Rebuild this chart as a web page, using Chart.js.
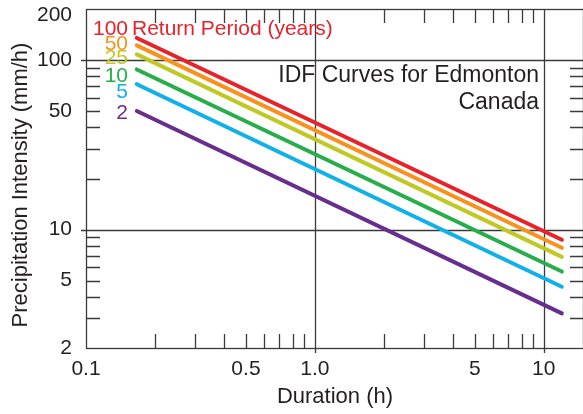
<!DOCTYPE html>
<html>
<head>
<meta charset="utf-8">
<title>IDF Curves for Edmonton</title>
<script src="https://cdn.jsdelivr.net/npm/chart.js@4/dist/chart.umd.min.js"></script>
<style>
  html, body { margin: 0; padding: 0; background: #fff; overflow: hidden; }
  #wrap { width: 584px; height: 414px; }
</style>
</head>
<body>
<div id="wrap"><canvas id="myChart" width="584" height="414"></canvas></div>
<script>
// durations (h) where the curves start and end
var durations = [0.1667, 12];

// intensity (mm/h) per return period
var periods = ['100', '50', '25', '10', '5', '2'];
var rp100 = [135, 8.7];
var rp50 = [122, 7.8];
var rp25 = [108, 6.9];
var rp10 = [88, 5.65];
var rp5 = [72, 4.6];
var rp2 = [50, 3.2];

var colors = ['#e8222b', '#f7921e', '#bfc923', '#27ad4a', '#10b1e8', '#672d8f'];

// axis ticks
var xTicks = [0.1, 0.5, 1, 5, 10];
var xTickLabels = ['0.1', '0.5', '1.0', '5', '10'];
var yTicks = [2, 5, 10, 50, 100, 200];
var yTickLabels = ['2', '5', '10', '50', '100', '200'];
var xMinor = [0.2, 0.3, 0.4, 0.5, 0.6, 0.7, 0.8, 0.9, 2, 3, 4, 5, 6, 7, 8, 9];
var yMinor = [3, 4, 5, 6, 7, 8, 9, 20, 30, 40, 50, 60, 70, 80, 90];
var majorGrid = { x: [1, 10], y: [10, 100] };

var ink = '#231f20';
var font = '"Liberation Sans", Arial, Helvetica, sans-serif';

function series(vals) {
    return durations.map(function (d, i) { return { x: d, y: vals[i] }; });
}

var allSeries = [rp100, rp50, rp25, rp10, rp5, rp2];
var datasets = allSeries.map(function (vals, i) {
    return {
        label: periods[i],
        data: series(vals),
        borderColor: colors[i],
        backgroundColor: colors[i],
        borderWidth: 4,
        borderCapStyle: 'round',
        pointRadius: 0,
        fill: false
    };
});

// frame, grid lines, minor ticks and annotations
var framePlugin = {
    id: 'frame',
    beforeDatasetsDraw: function (chart) {
        var ctx = chart.ctx, a = chart.chartArea;
        var xs = chart.scales.x, ys = chart.scales.y;
        ctx.save();
        ctx.strokeStyle = '#3a3a3a';
        ctx.lineWidth = 1.3;
        majorGrid.x.forEach(function (v) {
            var px = Math.round(xs.getPixelForValue(v)) + 0.5;
            ctx.beginPath();
            ctx.moveTo(px, a.top);
            ctx.lineTo(px, a.bottom + 5);
            ctx.stroke();
        });
        majorGrid.y.forEach(function (v) {
            var py = Math.round(ys.getPixelForValue(v)) + 0.5;
            ctx.beginPath();
            ctx.moveTo(a.left - 5, py);
            ctx.lineTo(a.right, py);
            ctx.stroke();
        });
        ctx.restore();
    },
    afterDatasetsDraw: function (chart) {
        var ctx = chart.ctx, a = chart.chartArea;
        var xs = chart.scales.x, ys = chart.scales.y;
        var len = 14;
        ctx.save();
        ctx.strokeStyle = '#3a3a3a';
        ctx.lineWidth = 1.3;
        ctx.strokeRect(a.left + 0.5, a.top + 0.5, a.right - a.left - 1, a.bottom - a.top);
        ctx.beginPath();
        xMinor.forEach(function (v) {
            var px = Math.round(xs.getPixelForValue(v)) + 0.5;
            ctx.moveTo(px, a.bottom); ctx.lineTo(px, a.bottom - len);
            ctx.moveTo(px, a.top); ctx.lineTo(px, a.top + len);
        });
        yMinor.forEach(function (v) {
            var py = Math.round(ys.getPixelForValue(v)) + 0.5;
            ctx.moveTo(a.left, py); ctx.lineTo(a.left + len, py);
            ctx.moveTo(a.right, py); ctx.lineTo(a.right - len, py);
        });
        ctx.stroke();

        // return period labels
        ctx.textBaseline = 'middle';
        ctx.font = '21px ' + font;
        var labelY = [29, 44, 58, 76, 92, 113];
        ctx.textAlign = 'right';
        periods.forEach(function (p, i) {
            ctx.fillStyle = colors[i];
            ctx.fillText(p, 128, labelY[i]);
        });
        ctx.textAlign = 'left';
        ctx.fillStyle = colors[0];
        ctx.fillText('Return Period (years)', 132, labelY[0]);

        // title
        ctx.fillStyle = ink;
        ctx.textAlign = 'right';
        ctx.font = '23px ' + font;
        ctx.fillText('IDF Curves for Edmonton', 539, 76);
        ctx.fillText('Canada', 539, 103);

        // y axis title
        ctx.translate(21, 185);
        ctx.rotate(-Math.PI / 2);
        ctx.textAlign = 'center';
        ctx.font = '22px ' + font;
        ctx.fillText('Precipitation Intensity (mm/h)', 0, 0);
        ctx.restore();
    }
};

var ctx = document.getElementById('myChart').getContext('2d');
var chart = new Chart(ctx, {
    type: 'line',
    data: { datasets: datasets },
    options: {
        responsive: false,
        animation: false,
        devicePixelRatio: 1,
        layout: { padding: { top: 9, right: 0, bottom: 0, left: 0 } },
        plugins: { legend: { display: false }, tooltip: { enabled: false } },
        scales: {
            x: {
                type: 'logarithmic',
                min: 0.1,
                max: 15,
                grid: { display: false, drawTicks: false },
                border: { display: false },
                afterBuildTicks: function (scale) {
                    scale.ticks = xTicks.map(function (v) { return { value: v }; });
                },
                afterFit: function (scale) {
                    scale.height = 66;
                    scale.paddingLeft = 0;
                    scale.paddingRight = 0;
                },
                ticks: {
                    autoSkip: false,
                    maxRotation: 0,
                    padding: 9,
                    color: ink,
                    font: { family: font, size: 21 },
                    callback: function (value) {
                        var i = xTicks.indexOf(value);
                        return i >= 0 ? xTickLabels[i] : '';
                    }
                },
                title: {
                    display: true,
                    text: 'Duration (h)',
                    color: ink,
                    font: { family: font, size: 22 },
                    padding: { top: 0, bottom: 4 }
                }
            },
            y: {
                type: 'logarithmic',
                min: 2,
                max: 200,
                grid: { display: false, drawTicks: false },
                border: { display: false },
                afterBuildTicks: function (scale) {
                    scale.ticks = yTicks.map(function (v) { return { value: v }; });
                },
                afterFit: function (scale) {
                    scale.width = 86;
                    scale.paddingTop = 0;
                    scale.paddingBottom = 0;
                },
                ticks: {
                    autoSkip: false,
                    padding: 14,
                    color: ink,
                    // top label sits a little below the frame, as in the original
                    font: function (c) {
                        if (c.tick && c.tick.value === 200) {
                            return { family: font, size: 21, lineHeight: 0.6 };
                        }
                        return { family: font, size: 21 };
                    },
                    callback: function (value) {
                        var i = yTicks.indexOf(value);
                        if (i < 0) return '';
                        return value === 200 ? ['', yTickLabels[i]] : yTickLabels[i];
                    }
                },
                title: { display: false }
            }
        }
    },
    plugins: [framePlugin]
});
</script>
</body>
</html>
